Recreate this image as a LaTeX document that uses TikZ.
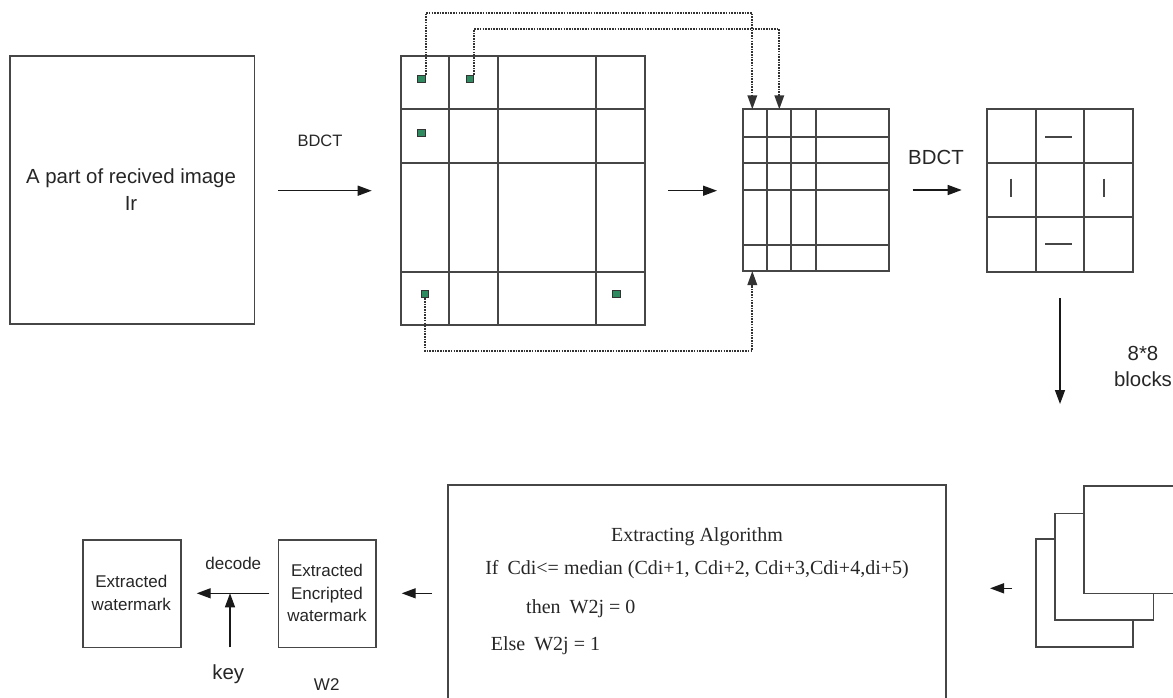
\documentclass[tikz,border=0pt]{standalone}
\usepackage{fontspec}
\setmainfont{Liberation Serif}
\setsansfont{Liberation Sans}
\usetikzlibrary{arrows.meta}
\definecolor{sqgreen}{RGB}{46,139,96}
\definecolor{lc}{RGB}{70,70,70}
\begin{document}
\begin{tikzpicture}[x=1pt,y=-1pt,
  ln/.style={draw=lc, line width=1.7pt},
  arr/.style={draw=black!90, line width=1.4pt, -{Triangle[length=14pt,width=10pt]}},
  dotarr/.style={draw=black!80, line width=1.8pt, dash pattern=on 1.6pt off 1.1pt, -{Triangle[length=14pt,width=9.5pt]}},
  sq/.style={draw=black!80, fill=sqgreen, line width=1pt, minimum size=7.5pt, inner sep=0pt},
  box/.style={ln, inner sep=0pt, fill=white},
  sfl/.style={font=\sffamily\fontsize{20.4}{24}\selectfont, inner sep=0pt, anchor=base, text=black!85},
  sfm/.style={font=\sffamily\fontsize{17}{20}\selectfont, inner sep=0pt, anchor=base, text=black!85},
  rm/.style={font=\fontsize{20}{24}\selectfont, inner sep=0pt, text=black!85}]
\clip (0,0) rectangle (1173,697);
\fill[white] (0,0) rectangle (1173,697);

% left image box
\node[box, minimum width=244.3pt, minimum height=268.6pt] (img) at (132.2,190) {};
\node[sfl] (imgt1) at (131,183.3) {A part of recived image};
\node[sfl] (imgt2) at (131,210) {Ir};

% BDCT 1
\node[sfl, font=\sffamily\fontsize{16.5}{20}\selectfont] (bdct1) at (320,146) {BDCT};
\coordinate (a1s) at (278.3,190.7);
\coordinate (a1e) at (371.7,190.7);
\draw[arr] (a1s) -- (a1e);

% big grid
\draw[ln] (400.7,56) rectangle (645,325);
\foreach \x in {449.3,498.3,596} \draw[ln] (\x,56) -- (\x,325);
\foreach \y in {109.3,163.3,271.7} \draw[ln] (400.7,\y) -- (645,\y);
\node[sq] (sq1) at (421.5,79) {};
\node[sq] (sq2) at (470,79) {};
\node[sq] (sq3) at (421.5,133) {};
\node[sq] (sq4) at (425,294) {};
\node[sq] (sq5) at (616.7,294) {};

% middle arrow
\coordinate (a2s) at (668,190.7);
\coordinate (a2e) at (717,190.7);
\draw[arr] (a2s) -- (a2e);

% small grid
\draw[ln] (742.7,109.3) rectangle (889,271);
\foreach \x in {766.7,791.3,816.3} \draw[ln] (\x,109.3) -- (\x,271);
\foreach \y in {136.7,163,189.7,244.7} \draw[ln] (742.7,\y) -- (889,\y);

% dotted connectors
\coordinate (c1) at (752.3,13);
\coordinate (t1) at (752.3,109.3);
\coordinate (c2) at (779.3,29);
\coordinate (t2) at (779.3,109.3);
\coordinate (c3) at (752.3,350.7);
\coordinate (t3) at (752.3,271);
\draw[dotarr] (sq1.north east) |- (c1) -- (t1);
\draw[dotarr] (sq2.north east) |- (c2) -- (t2);
\draw[dotarr] (sq4.south) |- (c3) -- (t3);

% BDCT 2
\node[sfl] (bdct2) at (936,164) {BDCT};
\coordinate (a3s) at (912.7,190);
\coordinate (a3e) at (961.7,190);
\draw[arr] (a3s) -- (a3e);

% 3x3 grid
\draw[ln] (986.7,109.3) rectangle (1133,271.7);
\foreach \x in {1035.7,1084.3} \draw[ln] (\x,109.3) -- (\x,271.7);
\foreach \y in {163,217.3} \draw[ln] (986.7,\y) -- (1133,\y);
\draw[ln] (1045,136.7) -- (1072.3,136.7);
\draw[ln] (1045,244) -- (1072.3,244);
\draw[ln] (1011,178.7) -- (1011,196.7);
\draw[ln] (1104,178.7) -- (1104,196.7);

% down arrow
\coordinate (a4s) at (1060,298);
\coordinate (a4e) at (1060,404);
\draw[arr] (a4s) -- (a4e);
\node[sfl] (n88) at (1143,360) {8*8};
\node[sfl] (blk) at (1143,386.7) {blocks};

% stack
\node[box, minimum width=97.6pt, minimum height=108pt] (s3) at (1084.5,593.3) {};
\node[box, minimum width=98.3pt, minimum height=106.7pt] (s2) at (1104.2,566.7) {};
\node[box, minimum width=98pt, minimum height=107.3pt] (s1) at (1133.2,539.7) {};
\coordinate (a5s) at (1012,588.3);
\coordinate (a5e) at (990,588.3);
\draw[arr] (a5s) -- (a5e);

% algorithm box
\coordinate (algtl) at (448,485);
\coordinate (algtr) at (945.7,485);
\draw[ln] (448,705) -- (algtl) -- (algtr) -- (945.7,705);
\node[rm, anchor=base] (alg1) at (697,541.7) {Extracting Algorithm};
\node[rm, anchor=base] (alg2) at (697,574.3) {If\hspace{0.45em}Cdi<= median (Cdi+1, Cdi+2, Cdi+3,Cdi+4,di+5)};
\node[rm, anchor=base west] (alg3) at (526,613.3) {then\hspace{0.45em}W2j = 0};
\node[rm, anchor=base west] (alg4) at (490.7,650) {Else\hspace{0.45em}W2j = 1};

% algo -> encrypted
\coordinate (a6s) at (432,593.3);
\coordinate (a6e) at (401.7,593.3);
\draw[arr] (a6s) -- (a6e);

% encrypted watermark box
\node[box, minimum width=97.7pt, minimum height=107.3pt] (enc) at (327.2,593.7) {};
\node[sfm] (enct1) at (327,576.7) {Extracted};
\node[sfm] (enct2) at (327,599.3) {Encripted};
\node[sfm] (enct3) at (327,621.7) {watermark};
\node[sfm] (w2) at (326.7,690) {W2};

% extracted watermark box
\node[box, minimum width=98.3pt, minimum height=107.3pt] (wm) at (131.9,593.7) {};
\node[sfm] (wmt1) at (131.3,587.7) {Extracted};
\node[sfm] (wmt2) at (131.3,610) {watermark};

% decode
\coordinate (a7s) at (269.3,593.3);
\coordinate (a7e) at (196.7,593.3);
\draw[arr] (a7s) -- (a7e);
\node[sfm] (dec) at (233.3,569.3) {decode};
\coordinate (k0) at (230,647.3);
\coordinate (k1) at (230,593.3);
\draw[arr] (k0) -- (k1);
\node[sfl] (key) at (228.3,679.3) {key};
\end{tikzpicture}
\end{document}
